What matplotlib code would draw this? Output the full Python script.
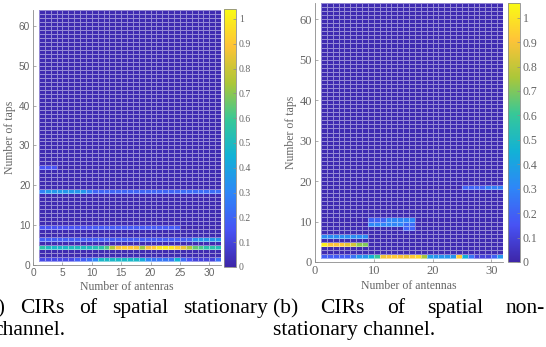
import numpy as np
import matplotlib.pyplot as plt
from matplotlib.colors import LinearSegmentedColormap

# ==========================
# Data
# ==========================

n_antennas = 32
n_taps = 64
floor_level = 0.02

# (a) spatial stationary channel, one list per tap row, antennas 1..31
stat_tap1 = [0.12, 0.12, 0.12, 0.12, 0.12, 0.12, 0.18, 0.18, 0.22, 0.30,
             0.48, 0.48, 0.48, 0.48, 0.48, 0.48, 0.48, 0.42, 0.30, 0.25,
             0.25, 0.25, 0.25, 0.45, 0.22, 0.15, 0.10, 0.10, 0.10, 0.10, 0.22]
stat_tap4 = [0.55, 0.50, 0.48, 0.48, 0.48, 0.50, 0.50, 0.50, 0.50, 0.52,
             0.55, 0.62, 0.75, 0.88, 0.92, 0.90, 0.88, 0.72, 0.88, 0.90,
             0.98, 1.00, 0.98, 0.92, 0.85, 0.75, 0.65, 0.62, 0.55, 0.55, 0.52]
stat_tap6 = [0.18, 0.18, 0.18, 0.18, 0.18, 0.18, 0.18, 0.18, 0.18, 0.18,
             0.18, 0.18, 0.18, 0.18, 0.18, 0.18, 0.18, 0.18, 0.18, 0.18,
             0.18, 0.18, 0.18, 0.18, 0.18, 0.20, 0.32, 0.35, 0.35, 0.35, 0.35]
stat_tap9 = [0.15, 0.15, 0.15, 0.15, 0.15, 0.15, 0.15, 0.15, 0.15, 0.17,
             0.17, 0.17, 0.17, 0.17, 0.17, 0.17, 0.17, 0.17, 0.17, 0.17,
             0.17, 0.17, 0.17, 0.17]
stat_tap18 = [0.28, 0.35, 0.35, 0.35, 0.35, 0.35, 0.35, 0.35, 0.28, 0.20,
              0.20, 0.20, 0.20, 0.20, 0.20, 0.20, 0.20, 0.20, 0.20, 0.20,
              0.20, 0.20, 0.20, 0.20, 0.22, 0.22, 0.22, 0.22, 0.22, 0.22, 0.22]
stat_tap24 = [0.15, 0.15, 0.15]

# (b) spatial non-stationary channel
nonstat_tap1 = [0.18, 0.18, 0.18, 0.18, 0.18, 0.25, 0.35, 0.35, 0.45, 0.60,
                0.88, 0.90, 0.92, 0.90, 0.88, 0.92, 0.96, 0.75, 0.38, 0.35,
                0.35, 0.35, 0.35, 0.92, 0.45, 0.25, 0.10, 0.10, 0.10, 0.20, 0.35]
nonstat_tap4 = [1.02, 0.90, 0.90, 0.90, 0.86, 0.82, 0.72, 0.70]
nonstat_tap6 = [0.32, 0.32, 0.32, 0.32, 0.32, 0.32, 0.32, 0.32]
nonstat_tap8 = [0.20, 0.20]           # antennas 15-16
nonstat_tap9 = [0.30, 0.30, 0.30, 0.30, 0.30, 0.30, 0.22, 0.22]   # antennas 9-16
nonstat_tap10 = [0.20, 0.20, 0.20, 0.30, 0.30, 0.30, 0.30, 0.30]  # antennas 9-16
nonstat_tap18 = [0.20, 0.20, 0.20, 0.20, 0.28, 0.28, 0.28]        # antennas 25-31

cbar_ticks = [0, 0.1, 0.2, 0.3, 0.4, 0.5, 0.6, 0.7, 0.8, 0.9, 1]
cbar_labels = ["0", "0.1", "0.2", "0.3", "0.4", "0.5", "0.6", "0.7", "0.8", "0.9", "1"]

# MATLAB parula
parula_colors = [
    (0.2422, 0.1504, 0.6603),
    (0.2810, 0.3228, 0.9579),
    (0.1786, 0.5289, 0.9682),
    (0.0689, 0.6948, 0.8394),
    (0.2161, 0.7843, 0.5923),
    (0.6720, 0.7793, 0.2227),
    (0.9970, 0.7659, 0.2199),
    (0.9769, 0.9839, 0.0805),
]
parula = LinearSegmentedColormap.from_list("parula", parula_colors, N=256)

# ==========================
# Build matrices
# ==========================


def put(Z, tap, first_antenna, values):
    # pcolor cell (tap, antenna) -> Z[tap-1, antenna-1]
    Z[tap - 1, first_antenna - 1:first_antenna - 1 + len(values)] = values


Z_stat = np.full((n_taps - 1, n_antennas - 1), floor_level)
put(Z_stat, 1, 1, stat_tap1)
put(Z_stat, 4, 1, stat_tap4)
put(Z_stat, 6, 1, stat_tap6)
put(Z_stat, 9, 1, stat_tap9)
put(Z_stat, 18, 1, stat_tap18)
put(Z_stat, 24, 1, stat_tap24)

Z_nonstat = np.full((n_taps - 1, n_antennas - 1), floor_level)
put(Z_nonstat, 1, 1, nonstat_tap1)
put(Z_nonstat, 4, 1, nonstat_tap4)
put(Z_nonstat, 6, 1, nonstat_tap6)
put(Z_nonstat, 8, 15, nonstat_tap8)
put(Z_nonstat, 9, 9, nonstat_tap9)
put(Z_nonstat, 10, 9, nonstat_tap10)
put(Z_nonstat, 18, 25, nonstat_tap18)

x_edges = np.arange(1, n_antennas + 1)
y_edges = np.arange(1, n_taps + 1)

# ==========================
# Figure
# ==========================

W, H = 546, 347
fig = plt.figure(figsize=(W / 100, H / 100), dpi=100)

gray = (0.4, 0.4, 0.4)
spine_gray = (0.55, 0.55, 0.55)


def px_rect(x0, x1, ytop, ybot):
    return [x0 / W, (H - ybot) / H, (x1 - x0) / W, (ybot - ytop) / H]


def draw_panel(Z, ax_rect, cax_rect, vmax, tick_font, tick_size, xticks,
               xlabel, cbar_size):
    ax = fig.add_axes(px_rect(*ax_rect))
    mesh = ax.pcolormesh(x_edges, y_edges, Z, cmap=parula, vmin=0, vmax=vmax,
                         edgecolors=(1, 1, 1, 0.45), linewidth=0.5)
    ax.set_xlim(0, 32)
    ax.set_ylim(0, 64)
    ax.set_xticks(xticks)
    ax.set_yticks([0, 10, 20, 30, 40, 50, 60])
    for s in ["top", "right"]:
        ax.spines[s].set_visible(False)
    for s in ["left", "bottom"]:
        ax.spines[s].set_color(spine_gray)
        ax.spines[s].set_linewidth(0.6)
    ax.tick_params(direction="in", length=2.5, width=0.5, color=spine_gray,
                   labelcolor=gray, labelsize=tick_size, pad=2)
    for lab in ax.get_xticklabels() + ax.get_yticklabels():
        lab.set_family(tick_font)
    ax.set_xlabel(xlabel, family="Liberation Serif", fontsize=8.5,
                  color=gray, labelpad=2)
    ax.set_ylabel("Number of taps", family="Liberation Serif", fontsize=8.5,
                  color=gray, labelpad=2)

    cax = fig.add_axes(px_rect(*cax_rect))
    cb = fig.colorbar(mesh, cax=cax, ticks=cbar_ticks)
    cb.ax.set_yticklabels(cbar_labels)
    cb.outline.set_edgecolor(spine_gray)
    cb.outline.set_linewidth(0.6)
    cax.tick_params(direction="in", length=2, width=0.5, color=spine_gray,
                    labelcolor=gray, labelsize=cbar_size, pad=2)
    for lab in cax.get_yticklabels():
        lab.set_family("Liberation Serif")
    return ax


draw_panel(Z_stat, (33, 221, 10, 265), (224, 236, 9, 267), 1.04,
           "Liberation Sans", 7.3, [0, 5, 10, 15, 20, 25, 30],
           "Number of antenras", 7)
draw_panel(Z_nonstat, (315, 503, 3, 262), (508, 520, 3, 262), 1.06,
           "Liberation Serif", 9, [0, 10, 20, 30],
           "Number of antennas", 8.5)

# ==========================
# Captions (justified)
# ==========================

cap_size = 15.5


def justify(words, x0, x1, ybase):
    texts = [fig.text(0, (H - ybase) / H, w, family="Liberation Serif",
                      fontsize=cap_size, va="baseline", ha="left")
             for w in words]
    renderer = fig.canvas.get_renderer()
    widths = [t.get_window_extent(renderer).width for t in texts]
    gap = (x1 - x0 - sum(widths)) / (len(words) - 1) if len(words) > 1 else 0
    x = x0
    for t, w in zip(texts, widths):
        t.set_x(x / W)
        x += w + gap


justify(["(a)", "CIRs", "of", "spatial", "stationary"], -19, 268, 313)
justify(["(b)", "CIRs", "of", "spatial", "non-"], 273, 545, 313)
fig.text(-7 / W, (H - 335) / H, "channel.", family="Liberation Serif",
         fontsize=cap_size, va="baseline", ha="left")
fig.text(273 / W, (H - 335) / H, "stationary channel.", family="Liberation Serif",
         fontsize=cap_size, va="baseline", ha="left")

fig.savefig("out.png", dpi=100)
